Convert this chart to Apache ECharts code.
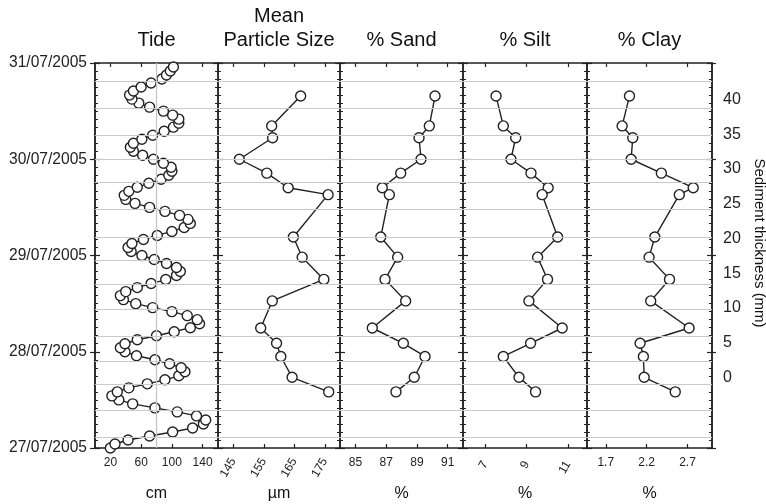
<!DOCTYPE html>
<html><head><meta charset="utf-8">
<script src="https://cdn.jsdelivr.net/npm/echarts@6/dist/echarts.min.js"></script>
<style>html,body{margin:0;padding:0;background:#fff}#c{width:766px;height:504px}</style>
</head><body><div id="c"></div>
<script>
// ---------- data ----------
const dateLabels = ['27/07/2005','28/07/2005','29/07/2005','30/07/2005','31/07/2005'];
// hourly tide height (cm), starting 27/07/2005 00:00
const tideCm = [20,26,43,71,101,127,141,144,132,107,78,49,31,22,29,44,68,91,109,117,
  112,97,78,54,39,33,39,55,80,103,124,136,133,120,100,75,53,37,33,40,
  55,73,92,106,111,106,93,77,61,47,43,48,63,81,100,116,124,121,110,91,
  71,52,40,38,44,55,70,86,96,100,99,89,76,62,50,46,50,61,75,90,
  102,109,109,101,89,71,57,48,45,50,60,73,87,93,98,102];
const tideMeanCm = 80;
// sediment samples: thickness (mm) and measured values
const sampleDepthMm = [40.5,36.2,34.5,31.4,29.4,27.3,26.3,20.2,17.3,14.1,11.0,7.1,4.9,3.0,0.0,-2.1];
const meanParticleSize = [167.1,157.6,157.9,147.0,156.0,163.0,176.1,164.7,167.6,174.7,157.8,154.0,159.2,160.6,164.3,176.3];
const sandPct = [90.18,89.81,89.14,89.27,87.95,86.75,87.21,86.65,87.75,86.93,88.27,86.10,88.12,89.53,88.83,87.64];
const siltPct = [7.52,7.87,8.47,8.24,9.21,10.04,9.75,10.50,9.53,10.01,9.11,10.72,9.19,7.87,8.63,9.43];
const clayPct = [1.99,1.90,2.03,2.01,2.38,2.77,2.60,2.30,2.23,2.48,2.25,2.72,2.12,2.16,2.17,2.55];
// hours (from 27/07 00:00) of the grey horizontal guide lines
const guideHours = [2.7,9.5,16.0,21.7,27.9,34.7,40.9,46.9,52.6,59.6,66.3,72.1,78.0,84.8,91.5];
// tick labels
const tideTicks = [20,60,100,140];
const mpsTicks = [145,155,165,175];
const sandTicks = [85,87,89,91];
const siltTicks = [7,9,11];
const clayTicks = [1.7,2.2,2.7];
const thicknessTicks = [0,5,10,15,20,25,30,35,40];
const panelTitles = ['Tide','Mean\nParticle Size','% Sand','% Silt','% Clay'];
const panelUnits = ['cm','\u00b5m','%','%','%'];
const thicknessName = 'Sediment thickness (mm)';

// ---------- layout ----------
const FONT = '"Liberation Sans", Arial, Helvetica, sans-serif';
const INK = '#222';
const edges = [95,218,340,463,587,712];
const TOP = 63, H = 385;
const panels = [
  {range:[0,160], ticks:tideTicks, rotate:0, margin:9},
  {range:[140,180], ticks:mpsTicks, rotate:60, margin:11},
  {range:[84,92], ticks:sandTicks, rotate:0, margin:9},
  {range:[5.92,11.92], ticks:siltTicks, rotate:60, margin:14},
  {range:[1.47,3.0], ticks:clayTicks, rotate:0, margin:9}
];
const panelValues = [null, meanParticleSize, sandPct, siltPct, clayPct];
const thickRange = [-10.18, 45.26];

const grids = [], xAxes = [], yAxes = [], series = [];
const axisLine = {show:true, onZero:false, lineStyle:{color:INK, width:1.5}};
const symbolStyle = {color:'#fff', borderColor:'#222', borderWidth:1.4};
const dataLine = {color:'#222', width:1.4};

panels.forEach((p, i) => {
  grids.push({left:edges[i], top:TOP, width:edges[i+1]-edges[i], height:H});
  const bx = xAxes.length;
  xAxes.push({type:'value', gridIndex:i, position:'bottom', min:p.range[0], max:p.range[1],
    axisLine, splitLine:{show:false},
    axisTick:{show:true, inside:true, length:4, customValues:p.ticks, lineStyle:{color:INK, width:1.2}},
    axisLabel:{show:true, customValues:p.ticks, rotate:p.rotate, margin:p.margin, fontSize:12, color:INK, fontFamily:FONT}});
  xAxes.push({type:'value', gridIndex:i, position:'top', min:p.range[0], max:p.range[1],
    axisLine, splitLine:{show:false},
    axisTick:{show:true, inside:true, length:4, customValues:p.ticks, lineStyle:{color:INK, width:1.2}},
    axisLabel:{show:false}});
  const ly = yAxes.length;
  ['left','right'].forEach(pos => yAxes.push({type:'value', gridIndex:i, position:pos, min:0, max:96, interval:24,
    axisLine, splitLine:{show:false}, minorSplitLine:{show:false},
    axisTick:{show:true, inside:true, length:5, lineStyle:{color:INK, width:1.2}},
    minorTick:{show:true, splitNumber:12, length:3, lineStyle:{color:INK, width:1}},
    axisLabel:{show:false}}));
  if (i === 0) {
    yAxes.push({type:'value', gridIndex:0, position:'left', min:0, max:96, interval:24,
      axisLine, splitLine:{show:false},
      axisTick:{show:true, inside:false, length:5, lineStyle:{color:INK, width:1.2}},
      axisLabel:{show:true, margin:8, fontSize:15.6, color:INK, fontFamily:FONT,
        formatter: v => dateLabels[Math.round(v/24)]}});
    series.push({type:'line', xAxisIndex:bx, yAxisIndex:ly, z:3,
      data: tideCm.map((v, h) => [v, h]),
      symbol:'circle', symbolSize:10, itemStyle:symbolStyle,
      lineStyle:dataLine, animation:false,
      markLine:{silent:true, symbol:'none', label:{show:false}, animation:false,
        lineStyle:{color:'#c4c4c4', width:1.2, type:'solid'}, data:[{xAxis:tideMeanCm}]}});
  } else {
    const ty = yAxes.length;
    yAxes.push({type:'value', gridIndex:i, show:false, min:thickRange[0], max:thickRange[1]});
    series.push({type:'line', xAxisIndex:bx, yAxisIndex:ty, z:3,
      data: panelValues[i].map((v, k) => [v, sampleDepthMm[k]]),
      symbol:'circle', symbolSize:10, itemStyle:symbolStyle,
      lineStyle:dataLine, animation:false});
  }
  if (i === 4) {
    yAxes.push({type:'value', gridIndex:4, position:'right', min:0, max:96, interval:24,
      axisLine, splitLine:{show:false},
      axisTick:{show:true, inside:false, length:4, lineStyle:{color:INK, width:1.2}},
      axisLabel:{show:false}});
  }
});

// overlay grid spanning all panels: guide lines + thickness labels
grids.push({left:edges[0], top:TOP, width:edges[5]-edges[0], height:H});
const ox = xAxes.length;
xAxes.push({type:'value', gridIndex:5, show:false, min:0, max:1});
const oy = yAxes.length;
yAxes.push({type:'value', gridIndex:5, show:false, min:0, max:96});
yAxes.push({type:'value', gridIndex:5, position:'right', min:thickRange[0], max:thickRange[1],
  axisLine:{show:false}, axisTick:{show:false}, splitLine:{show:false},
  axisLabel:{show:true, customValues:thicknessTicks, margin:11, fontSize:16, color:INK, fontFamily:FONT}});
series.push({type:'line', xAxisIndex:ox, yAxisIndex:oy, data:[], z:1, silent:true, animation:false,
  markLine:{silent:true, symbol:'none', label:{show:false}, animation:false,
    lineStyle:{color:'#cacaca', width:1.2, type:'solid'},
    data: guideHours.map(h => ({yAxis:h}))}});

// texts
const graphic = [];
panelTitles.forEach((t, i) => {
  const cx = (edges[i] + edges[i+1]) / 2;
  const lines = t.split('\n');
  lines.forEach((ln, j) => graphic.push({type:'text', x:cx, y:40 - (lines.length-1-j)*24,
    style:{text:ln, fontSize:20, fontFamily:FONT, fill:'#111', align:'center', verticalAlign:'middle'}}));
  graphic.push({type:'text', x:cx, y:494,
    style:{text:panelUnits[i], fontSize:16, fontFamily:FONT, fill:'#111', align:'center', verticalAlign:'middle'}});
});
graphic.push({type:'text', x:759, y:243, rotation:-Math.PI/2,
  style:{text:thicknessName, fontSize:15, fontFamily:FONT, fill:'#111', align:'center', verticalAlign:'middle'}});

const chart = echarts.init(document.getElementById('c'), null, {renderer:'canvas'});
chart.setOption({animation:false, backgroundColor:'#fff', grid:grids, xAxis:xAxes, yAxis:yAxes, series, graphic});
</script></body></html>
